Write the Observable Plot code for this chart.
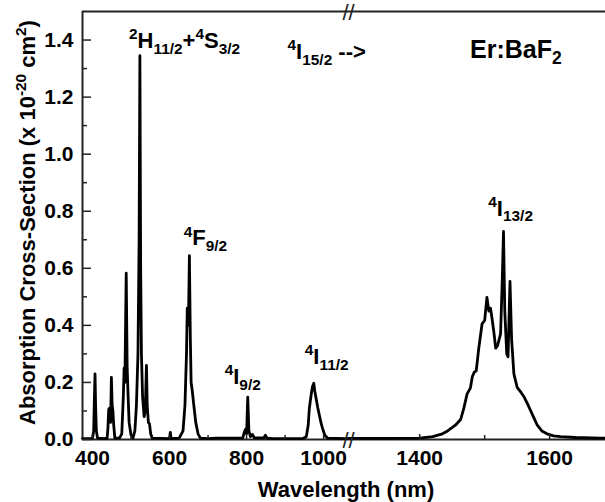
<!DOCTYPE html>
<html>
<head>
<meta charset="utf-8">
<script src="https://cdn.jsdelivr.net/npm/d3@7"></script>
<script src="https://cdn.jsdelivr.net/npm/@observablehq/plot@0.6"></script>
<style>
  html, body { margin: 0; padding: 0; background: #fff; }
</style>
</head>
<body>
<div id="chart"></div>
<script>
// ---- Data (wavelength in nm, cross-section in 1e-20 cm^2) ----
const wavelength = [
  374, 395, 400, 403, 405, 406.5, 408, 410, 413, 430,
  438, 440, 442, 444, 447, 449, 451, 453, 455, 458,
  470, 476, 480, 482, 484, 487.5, 490, 492.5, 495, 500,
  505, 510, 514, 518, 521, 523, 525, 527, 530, 534,
  537, 540, 542, 545, 548, 551, 555, 600, 602, 604,
  625, 635, 640, 644, 646, 649, 651.5, 654, 656, 659,
  663, 668, 674, 680, 700, 720, 790, 794, 797, 800,
  803, 806, 810, 815, 820, 845, 849, 853, 870, 900,
  945, 955, 960, 963, 968, 971, 974.5, 977, 981, 985,
  989, 993, 997, 1003, 1010, 1060,
  1292, 1350, 1400, 1420, 1435, 1443, 1455, 1463, 1468, 1473,
  1478, 1481, 1484, 1487, 1491, 1496, 1500, 1503.5, 1506.5, 1509,
  1511, 1514, 1517, 1520, 1524.5, 1527, 1529, 1531, 1534, 1536,
  1539, 1541.5, 1545, 1550, 1556, 1561, 1566, 1571, 1576, 1581,
  1588, 1596, 1606, 1617, 1640, 1678, 1690
];
const crossSection = [
  0.003, 0.003, 0.005, 0.03, 0.15, 0.23, 0.12, 0.03, 0.005, 0.003,
  0.005, 0.04, 0.105, 0.11, 0.06, 0.218, 0.12, 0.10, 0.05, 0.005,
  0.005, 0.02, 0.15, 0.25, 0.20, 0.583, 0.25, 0.15, 0.06, 0.015,
  0.005, 0.03, 0.12, 0.30, 0.70, 1.345, 0.60, 0.30, 0.15, 0.08,
  0.10, 0.26, 0.12, 0.06, 0.055, 0.02, 0.005, 0.003, 0.025, 0.003,
  0.005, 0.03, 0.12, 0.30, 0.46, 0.40, 0.644, 0.35, 0.20, 0.17,
  0.12, 0.06, 0.02, 0.005, 0.003, 0.005, 0.005, 0.025, 0.035, 0.02,
  0.148, 0.03, 0.01, 0.018, 0.006, 0.006, 0.015, 0.005, 0.003, 0.003,
  0.003, 0.01, 0.05, 0.11, 0.16, 0.185, 0.197, 0.17, 0.14, 0.11,
  0.085, 0.06, 0.04, 0.015, 0.005, 0.003,
  0.004, 0.004, 0.005, 0.01, 0.02, 0.03, 0.05, 0.07, 0.11, 0.16,
  0.18, 0.22, 0.236, 0.24, 0.32, 0.405, 0.417, 0.498, 0.45, 0.46,
  0.43, 0.38, 0.32, 0.33, 0.37, 0.55, 0.729, 0.45, 0.30, 0.29,
  0.554, 0.35, 0.23, 0.183, 0.165, 0.148, 0.125, 0.10, 0.075, 0.05,
  0.03, 0.02, 0.013, 0.01, 0.007, 0.005, 0.005
];

// Axis ticks
const xMajorTicks = [400, 600, 800, 1000, 1400, 1600];
const xMinorTicks = [500, 700, 900, 1500];
const yMajorTicks = [0, 0.2, 0.4, 0.6, 0.8, 1.0, 1.2, 1.4];
const yMinorTicks = [0.1, 0.3, 0.5, 0.7, 0.9, 1.1, 1.3];

// Axis break (wavelength region omitted between the two segments)
const xBreakStart = 1062;
const xBreakEnd = 1292;

// Transition labels (^{..} superscript, _{..} subscript)
const labelText = [
  "^{2}H_{11/2}+^{4}S_{3/2}",
  "^{4}I_{15/2} -->",
  "^{4}F_{9/2}",
  "^{4}I_{9/2}",
  "^{4}I_{11/2}",
  "^{4}I_{13/2}"
];
const labelX = [639, 1008, 693, 790, 1008, 1540];
const labelY = [1.373, 1.335, 0.68, 0.196, 0.266, 0.785];
const sampleName = "Er:BaF_{2}";

const spectrum = wavelength.map((w, i) => ({w, s: crossSection[i]}));
const labels = labelText.map((t, i) => ({t, x: labelX[i], y: labelY[i]}));

const axisColor = "#222";
const fmt = d3.format(".1f");

const chart = Plot.plot({
  width: 605,
  height: 502,
  marginLeft: 82,
  marginRight: 0,
  marginTop: 11,
  marginBottom: 63,
  style: {fontFamily: "'Liberation Sans', Arial, sans-serif", background: "#fff", color: "#000"},
  x: {type: "linear", domain: [374, xBreakStart, xBreakEnd, 1686], range: [82, 347, 349, 605]},
  y: {domain: [0, 1.5]},
  marks: [
    // frame (left, bottom, top)
    Plot.ruleY([0, 1.5], {stroke: axisColor, strokeWidth: 2}),
    Plot.ruleX([374], {stroke: axisColor, strokeWidth: 2}),
    // spectrum
    Plot.line(spectrum, {x: "w", y: "s", stroke: "#000", strokeWidth: 2.8, strokeLinejoin: "round"}),
    // y axis
    Plot.axisY(yMajorTicks, {anchor: "left", tickSize: -9, tickPadding: 18, tickFormat: fmt, label: null,
      fontSize: 21, fontWeight: "bold", stroke: axisColor, strokeWidth: 1.5, fill: "#000"}),
    Plot.axisY(yMinorTicks, {anchor: "left", tickSize: -5, label: null, stroke: axisColor, strokeWidth: 1.5, fill: "none"}),
    // x axis
    Plot.axisX(xMajorTicks, {anchor: "bottom", tickSize: -5, tickPadding: 16, tickFormat: d => String(d), label: null,
      fontSize: 21, fontWeight: "bold", stroke: axisColor, strokeWidth: 1.5, fill: "#000"}),
    Plot.axisX(xMinorTicks, {anchor: "bottom", tickSize: -4, label: null, stroke: axisColor, strokeWidth: 1.5, fill: "none"}),
    // axis break marks
    Plot.text(["//"], {x: () => (xBreakStart + xBreakEnd) / 2, y: () => 0, fontSize: 22, fill: axisColor, lineAnchor: "middle", dy: 1}),
    Plot.text(["//"], {x: () => (xBreakStart + xBreakEnd) / 2, y: () => 1.5, fontSize: 22, fill: axisColor, lineAnchor: "middle", dy: 1}),
    // axis titles
    Plot.text(["Wavelength (nm)"], {frameAnchor: "bottom", dx: 2, dy: 57, lineAnchor: "bottom", textAnchor: "middle", fontSize: 22, fontWeight: "bold", fill: "#000"}),
    Plot.text(["Absorption Cross-Section (x 10^{-20} cm^{2})"], {frameAnchor: "left", rotate: -90, dx: -48, dy: -3, lineAnchor: "bottom", textAnchor: "middle", fontSize: 22, fontWeight: "bold", fill: "#000"}),
    // annotations
    Plot.text(labels, {x: "x", y: "y", text: "t", lineAnchor: "bottom", fontSize: 22, fontWeight: "bold", fill: "#000"}),
    Plot.text([sampleName], {x: () => 1548, y: () => 1.338, lineAnchor: "bottom", fontSize: 25, fontWeight: "bold", fill: "#000"})
  ]
});

document.getElementById("chart").appendChild(chart);

// Render ^{..} / _{..} markup as real superscript / subscript tspans
(function richText(svg) {
  const NS = "http://www.w3.org/2000/svg";
  for (const t of svg.querySelectorAll("text")) {
    const s = t.textContent;
    if (!/[\^_]\{/.test(s)) continue;
    const fs = parseFloat(getComputedStyle(t).fontSize) || 20;
    t.textContent = "";
    let cur = 0, m;
    const re = /([\^_])\{([^}]*)\}|([^\^_]+)/g;
    while ((m = re.exec(s))) {
      const ts = document.createElementNS(NS, "tspan");
      let target;
      if (m[1]) {
        target = m[1] === "^" ? -0.4 * fs : 0.27 * fs;
        ts.setAttribute("font-size", (0.7 * fs).toFixed(2));
        ts.textContent = m[2];
      } else {
        target = 0;
        ts.textContent = m[3];
      }
      const d = target - cur;
      if (d) ts.setAttribute("dy", d.toFixed(2));
      cur = target;
      t.appendChild(ts);
    }
  }
})(chart);
</script>
</body>
</html>
